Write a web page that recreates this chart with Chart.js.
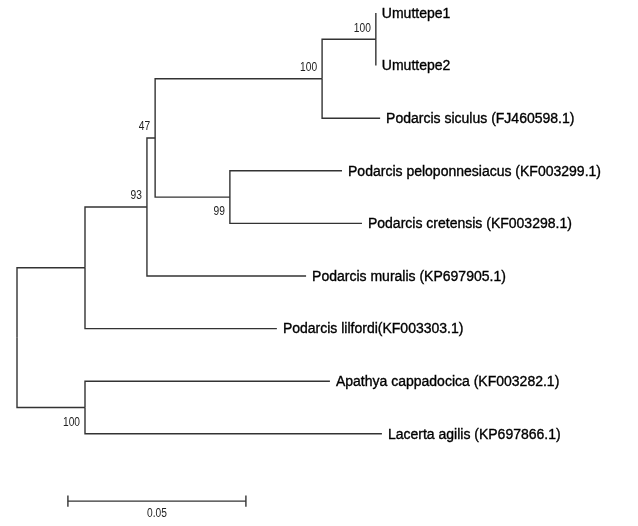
<!DOCTYPE html>
<html>
<head>
<meta charset="utf-8">
<script src="https://cdn.jsdelivr.net/npm/chart.js@4"></script>
<style>
  html, body { margin: 0; padding: 0; background: #fff; }
  canvas { display: block; }
</style>
</head>
<body>
<canvas id="tree" width="638" height="526"></canvas>
<script>
'use strict';

// internal nodes of the tree (branch length = distance to parent)
var nodeIds     = ['root', 'n1', 'n93', 'n47', 'n100s', 'n100u', 'n99', 'out'];
var nodeParent  = [null, 'root', 'n1', 'n93', 'n47', 'n100s', 'n47', 'root'];
var nodeBranch  = [0, 0.0191, 0.0174, 0.0023, 0.0469, 0.0151, 0.0210, 0.0191];
var nodeSupport = [null, null, 93, 47, 100, 100, 99, 100];

// leaves, top to bottom
var taxa = [
	'Umuttepe1',
	'Umuttepe2',
	'Podarcis siculus (FJ460598.1)',
	'Podarcis peloponnesiacus (KF003299.1)',
	'Podarcis cretensis (KF003298.1)',
	'Podarcis muralis (KP697905.1)',
	'Podarcis lilfordi(KF003303.1)',
	'Apathya cappadocica (KF003282.1)',
	'Lacerta agilis (KP697866.1)'
];
var taxonParent = ['n100u', 'n100u', 'n100s', 'n99', 'n99', 'n93', 'n1', 'out', 'out'];
var taxonBranch = [0, 0, 0.0163, 0.0315, 0.0371, 0.0447, 0.0539, 0.0688, 0.0834];

var scaleBarLength = 0.05;
var scaleBarLabel = '0.05';

// supports written under the stem instead of above it
var supportBelow = ['n99', 'out'];

var lineColor = '#333';
var leafFont = '14px "Liberation Sans", Arial, sans-serif';
var smallFont = '12px "Liberation Sans", Arial, sans-serif';
var smallSqueeze = 0.85;

//build the layout: x = depth from root, y = row index
var pos = {}, children = {};
function depthOf(id){
	var k = nodeIds.indexOf(id);
	if(nodeParent[k] === null){ return 0; }
	return depthOf(nodeParent[k]) + nodeBranch[k];
}
nodeIds.forEach(function(id){ children[id] = []; });
nodeIds.forEach(function(id, k){
	if(nodeParent[k] !== null){ children[nodeParent[k]].push(id); }
});
taxa.forEach(function(name, k){
	children[taxonParent[k]].push('t' + k);
	pos['t' + k] = { x: depthOf(taxonParent[k]) + taxonBranch[k], y: k };
});
function place(id){
	if(pos[id]){ return pos[id]; }
	var ys = children[id].map(function(c){ return place(c).y; });
	pos[id] = {
		x: depthOf(id),
		y: (Math.min.apply(null, ys) + Math.max.apply(null, ys)) / 2
	};
	return pos[id];
}
place('root');

//one elbow per branch
var datasets = [];
function branch(from, to){
	datasets.push({
		data: [ { x: from.x, y: from.y }, { x: from.x, y: to.y }, { x: to.x, y: to.y } ],
		showLine: true,
		borderColor: lineColor,
		borderWidth: 1.4,
		pointRadius: 0,
		tension: 0
	});
}
nodeIds.forEach(function(id, k){
	if(nodeParent[k] !== null){ branch(pos[nodeParent[k]], pos[id]); }
});
taxa.forEach(function(name, k){
	branch(pos[taxonParent[k]], pos['t' + k]);
});

//scale bar
var bar = { x: 0.0143, y: 9.28, tick: 0.105 };
[
	[ { x: bar.x, y: bar.y }, { x: bar.x + scaleBarLength, y: bar.y } ],
	[ { x: bar.x, y: bar.y - bar.tick }, { x: bar.x, y: bar.y + bar.tick } ],
	[ { x: bar.x + scaleBarLength, y: bar.y - bar.tick }, { x: bar.x + scaleBarLength, y: bar.y + bar.tick } ]
].forEach(function(seg){
	datasets.push({
		data: seg, showLine: true, borderColor: lineColor, borderWidth: 1.4, pointRadius: 0
	});
});

//narrow text: squeeze horizontally around the anchor point
function smallText(ctx, text, x, y, align){
	ctx.save();
	ctx.translate(x, y);
	ctx.scale(smallSqueeze, 1);
	ctx.textAlign = align;
	ctx.fillText(text, 0, 0);
	ctx.restore();
}

//texts: taxa, bootstrap values and scale label
var labelsPlugin = {
	id: 'treeLabels',
	afterDatasetsDraw: function(chart){
		var ctx = chart.ctx, xs = chart.scales.x, ys = chart.scales.y;
		ctx.save();
		ctx.fillStyle = '#000';
		ctx.strokeStyle = '#000';
		ctx.lineWidth = 0.35;
		ctx.font = leafFont;
		ctx.textAlign = 'left';
		ctx.textBaseline = 'middle';
		taxa.forEach(function(name, k){
			var p = pos['t' + k],
				px = xs.getPixelForValue(p.x) + 6,
				py = ys.getPixelForValue(p.y) + 1;
			ctx.fillText(name, px, py);
			ctx.strokeText(name, px, py);
		});
		ctx.fillStyle = '#222';
		ctx.font = smallFont;
		nodeIds.forEach(function(id, k){
			if(nodeSupport[k] === null){ return; }
			var p = pos[id],
				below = supportBelow.indexOf(id) !== -1;
			smallText(ctx, String(nodeSupport[k]),
				xs.getPixelForValue(p.x) - 5,
				ys.getPixelForValue(p.y) + (below ? 15 : -11), 'right');
		});
		smallText(ctx, scaleBarLabel,
			xs.getPixelForValue(bar.x + scaleBarLength / 2),
			ys.getPixelForValue(bar.y) + 13, 'center');
		ctx.restore();
	}
};

new Chart(document.getElementById('tree').getContext('2d'), {
	type: 'scatter',
	data: { datasets: datasets },
	options: {
		responsive: false,
		animation: false,
		events: [],
		layout: { padding: 0 },
		plugins: { legend: { display: false }, tooltip: { enabled: false } },
		scales: {
			x: { type: 'linear', display: false, min: -17 / 3560, max: 621 / 3560 },
			y: { type: 'linear', display: false, reverse: true, min: -13 / 52.6, max: 513 / 52.6 }
		}
	},
	plugins: [labelsPlugin]
});
</script>
</body>
</html>
